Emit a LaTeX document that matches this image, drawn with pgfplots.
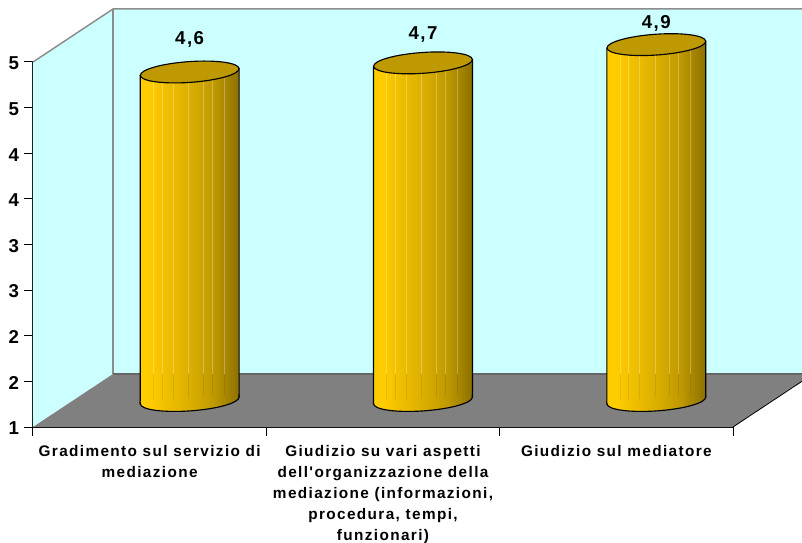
\documentclass[border=0pt]{standalone}
\usepackage{pgfplots}
\usepackage{fontspec}
\pgfplotsset{compat=1.18}
\setmainfont{Liberation Sans}
\newfontfamily\tickf[LetterSpace=3]{Liberation Sans}
\newfontfamily\labf[LetterSpace=9]{Liberation Sans}
\newfontfamily\valf[LetterSpace=8]{Liberation Sans}
\definecolor{wallc}{HTML}{CCFFFF}
\definecolor{floorc}{HTML}{808080}
\definecolor{framec}{HTML}{8C8C8C}
\definecolor{capc}{HTML}{BF9900}
\definecolor{cA}{HTML}{FFCC00}
\definecolor{cB}{HTML}{EFBF00}
\definecolor{cC}{HTML}{DBAF00}
\definecolor{cD}{HTML}{BE9800}
\definecolor{cE}{HTML}{8C7000}
\pgfdeclarehorizontalshading{cyl}{100bp}{
  color(0bp)=(cA);
  color(25bp)=(cA);
  color(30bp)=(cA);
  color(38bp)=(cB);
  color(50bp)=(cC);
  color(62.5bp)=(cD);
  color(75bp)=(cE);
  color(100bp)=(cE)}
\pgfdeclareplotmark{cyltop}{%
  \pgfscope
  \pgftransformrotate{4}%
  \pgfpathellipse{\pgfpointorigin}{\pgfpoint{37.1pt}{0pt}}{\pgfpoint{0pt}{7.8pt}}%
  \pgfsetlinewidth{.85pt}\pgfsetfillcolor{capc}\pgfsetstrokecolor{black}%
  \pgfusepath{fill,stroke}%
  \endpgfscope}
\pgfdeclareplotmark{cylbot}{%
  \pgfscope
  \pgftransformrotate{4}%
  \pgfpathmoveto{\pgfpoint{37.1pt}{2pt}}%
  \pgfpathlineto{\pgfpoint{37.1pt}{0pt}}%
  \pgfpatharc{0}{-180}{37.1pt and 7.8pt}%
  \pgfpathlineto{\pgfpoint{-37.1pt}{2pt}}%
  \pgfpathclose
  \pgfshadepath{cyl}{0}%
  \pgfusepath{discard}%
  \pgfpathmoveto{\pgfpoint{37.1pt}{2pt}}%
  \pgfpathlineto{\pgfpoint{37.1pt}{0pt}}%
  \pgfpatharc{0}{-180}{37.1pt and 7.8pt}%
  \pgfpathlineto{\pgfpoint{-37.1pt}{2pt}}%
  \pgfsetlinewidth{.85pt}\pgfsetstrokecolor{black}%
  \pgfusepath{stroke}%
  \endpgfscope}
\pgfplotsset{vallabel/.style={only marks, mark=cyltop,
  nodes near coords,
  point meta=y,
  nodes near coords style={font=\valf\bfseries\fontsize{14}{16}\selectfont, anchor=center, yshift=#1,
    /pgf/number format/.cd, use comma, fixed, fixed zerofill, precision=1, assume math mode=true}}}
\begin{document}
\begin{tikzpicture}[x=1pt,y=1pt]
\fill[white] (0,0) rectangle (601.5,406.5);
\useasboundingbox (0,0) rectangle (601.5,406.5);
\clip (0,0) rectangle (601.5,406.5);
\begin{axis}[
  name=front, at={(24.75pt,86.25pt)}, anchor=south west,
  scale only axis, width=525pt, height=273.75pt,
  xmin=-0.5, xmax=2.5, ymin=1, ymax=5, clip=false,
  axis x line*=bottom, axis y line*=left,
  axis line style={-, black, line width=.85pt},
  tick style={black, line width=.75pt},
  tick align=outside,
  xtick={0,1,2},
  xticklabels={{Gradimento sul servizio di\\mediazione},
    {Giudizio su vari aspetti\\dell'organizzazione della\\mediazione (informazioni,\\procedura, tempi,\\funzionari)},
    {Giudizio sul mediatore}},
  xticklabel style={align=center, font=\labf\bfseries\fontsize{11.5}{15.6}\selectfont, anchor=north, yshift=-4pt},
  major x tick style={draw=none},
  minor xtick={-0.5,0.5,1.5,2.5},
  minor tick length=7pt,
  minor x tick style={black, line width=.75pt},
  ytick={1,1.5,...,5},
  yticklabels={1,2,2,3,3,4,4,5,5},
  yticklabel style={font=\tickf\bfseries\fontsize{14}{15}\selectfont, xshift=-0.5pt, yshift=-1pt},
  major tick length=6.5pt,
]
% walls and floor
\fill[wallc] (axis cs:-0.5,1) -- (axis cs:-0.157,1.581) -- (axis cs:-0.157,5.581) -- (axis cs:-0.5,5) -- cycle;
\fill[wallc] (axis cs:-0.157,1.581) rectangle (axis cs:2.9,5.581);
\fill[floorc] (axis cs:-0.5,1) -- (axis cs:-0.157,1.581) -- (axis cs:2.843,1.581) -- (axis cs:2.5,1) -- cycle;
\draw[framec,line width=1.1pt] (axis cs:-0.5,5) -- (axis cs:-0.157,5.581) -- (axis cs:2.9,5.581);
\draw[framec,line width=1.1pt] (axis cs:-0.157,5.581) -- (axis cs:-0.157,1.581);
\draw[black!60,line width=1.1pt] (axis cs:-0.157,1.581) -- (axis cs:2.843,1.581);
\draw[black,line width=.6pt] (axis cs:2.5,1) -- (axis cs:2.843,1.581);
\end{axis}
\begin{axis}[
  at={(54.75pt,106.125pt)}, anchor=south west,
  scale only axis, width=525pt, height=273.75pt,
  xmin=-0.5, xmax=2.5, ymin=1, ymax=5, clip=false,
  axis lines=none,
]
% cylinder bodies
\addplot[shade, shading=cyl, draw=black, line width=.85pt] coordinates {(-0.212,4.562)(0.212,4.638)(0.212,1.038)(-0.212,0.962)} -- cycle;
\addplot[shade, shading=cyl, draw=black, line width=.85pt] coordinates {(0.788,4.662)(1.212,4.738)(1.212,1.038)(0.788,0.962)} -- cycle;
\addplot[shade, shading=cyl, draw=black, line width=.85pt] coordinates {(1.788,4.862)(2.212,4.938)(2.212,1.038)(1.788,0.962)} -- cycle;
% bottom rims
\addplot[only marks, mark=cylbot] coordinates {(0,1)(1,1)(2,1)};
% seams
\pgfplotsinvokeforeach{-0.156,-0.118,-0.071,-0.006,0.058,0.096,0.148}{
  \addplot[white,opacity=.28,line width=.6pt] coordinates {(#1,4.56)(#1,1.29)};
  \addplot[black,opacity=.08,line width=.6pt] coordinates {(#1,1.29)(#1,1.0)};}
\pgfplotsinvokeforeach{0.844,0.882,0.929,0.994,1.058,1.096,1.148}{
  \addplot[white,opacity=.28,line width=.6pt] coordinates {(#1,4.66)(#1,1.29)};
  \addplot[black,opacity=.08,line width=.6pt] coordinates {(#1,1.29)(#1,1.0)};}
\pgfplotsinvokeforeach{1.844,1.882,1.929,1.994,2.058,2.096,2.148}{
  \addplot[white,opacity=.28,line width=.6pt] coordinates {(#1,4.86)(#1,1.29)};
  \addplot[black,opacity=.08,line width=.6pt] coordinates {(#1,1.29)(#1,1.0)};}
% tops and value labels
\addplot[vallabel=24.8pt] coordinates {(0,4.6)};
\addplot[vallabel=21.2pt] coordinates {(1,4.7)};
\addplot[vallabel=15.6pt] coordinates {(2,4.9)};
\end{axis}
\end{tikzpicture}
\end{document}
